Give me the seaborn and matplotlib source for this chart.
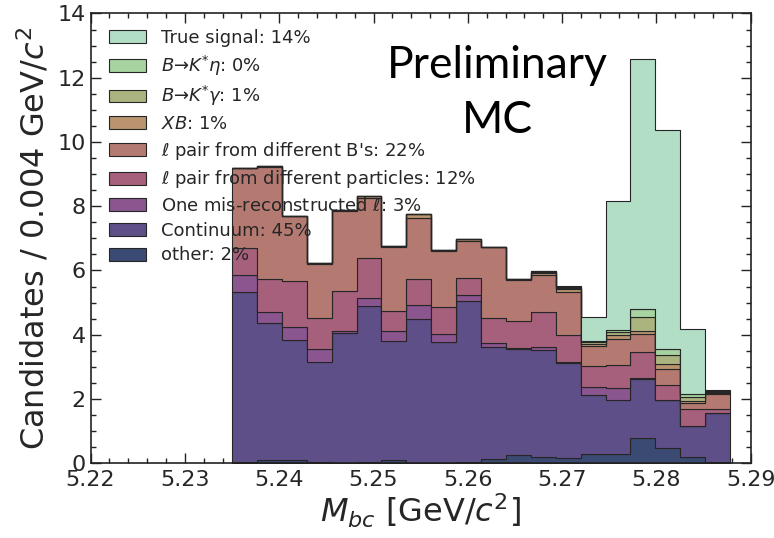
import numpy as np
import pandas as pd
import matplotlib
matplotlib.use("Agg")
import matplotlib.pyplot as plt
import seaborn as sns
from matplotlib.ticker import MultipleLocator

# ---- data (per-bin counts of each component) ----
bin_low = 5.235
bin_high = 5.2878
n_bins = 20

categories = [
    "True signal: 14%",
    r"$B$→$K^{*}\eta$: 0%",
    r"$B$→$K^{*}\gamma$: 1%",
    r"$XB$: 1%",
    r"$\ell$ pair from different B's: 22%",
    r"$\ell$ pair from different particles: 12%",
    r"One mis-reconstructed $\ell$: 3%",
    "Continuum: 45%",
    "other: 2%",
]

true_signal = [0, 0, 0, 0, 0, 0, 0, 0, 0, 0, 0, 0, 0, 0.04, 0.76, 4.00, 7.80, 6.80, 2.05, 0.03]
b_kstar_eta = [0, 0, 0, 0, 0, 0, 0, 0, 0, 0, 0, 0, 0.02, 0.02, 0.04, 0.08, 0.23, 0.21, 0.09, 0.02]
b_kstar_gamma = [0, 0, 0, 0, 0, 0, 0, 0, 0, 0, 0, 0, 0.02, 0.03, 0.04, 0.10, 0.43, 0.26, 0.10, 0.03]
xb = [0.0, 0.02, 0.02, 0.02, 0.02, 0.06, 0.02, 0.13, 0.02, 0.06, 0.02, 0.02, 0.08, 0.09, 0.08, 0.10, 0.11, 0.17, 0.07, 0.05]
pair_diff_b = [2.51, 3.48, 2.01, 1.68, 2.50, 1.87, 1.99, 1.90, 1.76, 1.16, 2.21, 1.28, 1.15, 1.34, 0.62, 0.83, 0.56, 0.50, 0.18, 0.44]
pair_diff_particles = [0.84, 1.04, 1.42, 0.96, 1.24, 1.26, 0.63, 0.80, 0.85, 0.52, 0.76, 0.83, 1.08, 0.83, 0.64, 0.72, 0.82, 0.45, 0.53, 0.13]
mis_reco = [0.53, 0.32, 0.42, 0.41, 0.06, 0.23, 0.31, 0.44, 0.24, 0.21, 0.12, 0.03, 0.10, 0.03, 0.26, 0.37, 0.03, 0.02, 0.02, 0.02]
continuum = [5.29, 4.27, 3.74, 3.12, 4.05, 4.86, 3.71, 4.47, 3.75, 5.00, 3.51, 3.29, 3.32, 2.97, 1.82, 1.67, 1.84, 1.50, 0.95, 1.50]
other = [0.03, 0.11, 0.09, 0.03, 0.01, 0.04, 0.10, 0.01, 0.02, 0.04, 0.12, 0.27, 0.20, 0.16, 0.30, 0.29, 0.77, 0.46, 0.20, 0.05]

series = [true_signal, b_kstar_eta, b_kstar_gamma, xb, pair_diff_b,
          pair_diff_particles, mis_reco, continuum, other]

colors = ["#b2dec6", "#a7d3a1", "#abb47f", "#b9946f", "#b47a71",
          "#a7607c", "#8b5590", "#5f4f88", "#3b4a72"]

# ---- build long table ----
edges = [float(e) for e in np.linspace(bin_low, bin_high, n_bins + 1)]
centers = [0.5 * (a + b) for a, b in zip(edges[:-1], edges[1:])]
rows = []
for cat, vals in zip(categories, series):
    for c, v in zip(centers, vals):
        rows.append({"mbc": c, "component": cat, "w": v})
df = pd.DataFrame(rows)

sns.set_style("ticks")
plt.rcParams["font.family"] = ["DejaVu Sans"]
plt.rcParams["mathtext.fontset"] = "dejavusans"

fig = plt.figure(figsize=(7.74, 5.38), dpi=100)
ax = fig.add_axes([0.117, 0.139, 0.853, 0.836])

sns.histplot(
    data=df, x="mbc", hue="component", weights="w", bins=edges,
    multiple="stack", element="step", hue_order=categories,
    palette=colors, alpha=1.0, edgecolor="#262626", linewidth=0.8,
    ax=ax,
)

ax.set_xlim(5.22, 5.29)
ax.set_ylim(0, 14)
ax.xaxis.set_major_locator(MultipleLocator(0.01))
ax.xaxis.set_minor_locator(MultipleLocator(0.002))
ax.yaxis.set_major_locator(MultipleLocator(2))
ax.yaxis.set_minor_locator(MultipleLocator(0.5))
ax.tick_params(which="both", direction="in", top=True, right=True,
               labelsize=16, width=1.0, color="#222222")
ax.tick_params(which="major", length=7)
ax.tick_params(which="minor", length=3.5)
ax.tick_params(axis="x", which="major", pad=5)
for s in ax.spines.values():
    s.set_linewidth(1.2)
    s.set_color("#222222")

ax.set_xlabel(r"$M_{bc}$ [GeV/$c^2$]", fontsize=23, labelpad=1)
ax.set_ylabel(r"Candidates / 0.004 GeV/$c^2$", fontsize=23, labelpad=4)

sns.move_legend(
    ax, "upper left", bbox_to_anchor=(0.005, 1.0), title=None, frameon=False,
    fontsize=13, handlelength=2.05, handleheight=0.72, labelspacing=0.37,
    borderaxespad=0.45, handletextpad=0.8,
)

ax.text(0.616, 0.885, "Preliminary", transform=ax.transAxes, ha="center",
        va="center", fontsize=32, family=["Lato", "DejaVu Sans"], color="black")
ax.text(0.616, 0.762, "MC", transform=ax.transAxes, ha="center",
        va="center", fontsize=32, family=["Lato", "DejaVu Sans"], color="black")

fig.savefig("out.png", dpi=100)
